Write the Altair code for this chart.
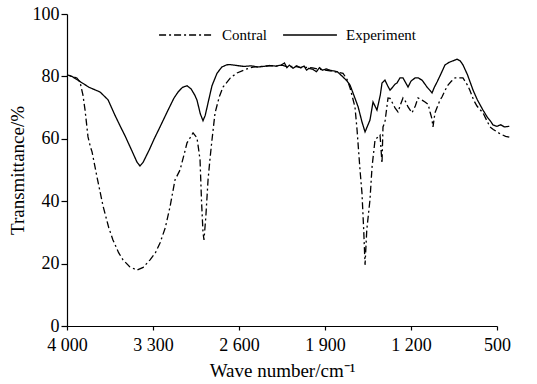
import altair as alt
import pandas as pd

# Experiment (solid)
wn_exp = [4000, 3960, 3900, 3820, 3731, 3666, 3609, 3560, 3528, 3470,
          3430, 3406, 3380, 3330, 3290, 3243, 3180, 3130, 3096, 3060,
          3023, 2990, 2960, 2942, 2915, 2893, 2875, 2852, 2820, 2779,
          2740, 2700, 2673, 2620, 2560, 2500, 2450, 2400, 2350, 2300,
          2260, 2230, 2210, 2190, 2160, 2130, 2100, 2070, 2050, 2030,
          2000, 1970, 1945, 1920, 1890, 1859, 1800, 1753, 1720, 1696,
          1656, 1630, 1599, 1574, 1555, 1534, 1509, 1477, 1450, 1436,
          1412, 1390, 1371, 1350, 1330, 1314, 1290, 1265, 1224, 1200,
          1167, 1140, 1110, 1086, 1070, 1045, 1029, 1010, 988, 960,
          923, 890, 858, 825, 800, 777, 740, 695, 660, 614,
          580, 550, 532, 500, 470, 440, 400]
t_exp = [80.5, 80.0, 78.5, 76.5, 75.0, 72.5, 67.5, 63.5, 61.0, 56.0,
         52.5, 51.3, 52.5, 56.5, 60.0, 63.8, 69.0, 73.0, 75.0, 76.5,
         77.0, 76.0, 74.0, 72.4, 68.0, 65.8, 67.5, 71.5, 77.0, 81.0,
         83.0, 83.7, 83.8, 83.5, 83.2, 83.4, 83.0, 83.2, 83.5, 83.3,
         83.6, 84.3, 82.8, 83.6, 82.6, 83.4, 82.8, 83.3, 82.0, 82.6,
         82.3, 81.5, 82.8, 82.0, 82.4, 82.0, 81.5, 79.8, 78.5, 77.2,
         73.0, 70.2, 65.4, 62.2, 64.0, 66.0, 71.8, 69.2, 74.0, 77.9,
         78.8, 77.0, 75.6, 76.5, 77.5, 77.9, 79.5, 79.5, 76.6, 78.5,
         79.5, 79.5, 78.8, 77.5, 76.6, 75.5, 74.7, 76.5, 78.2, 80.5,
         83.7, 84.5, 85.0, 85.5, 85.0, 83.7, 80.5, 75.6, 72.5, 69.2,
         67.0, 65.5, 64.4, 64.0, 64.5, 63.8, 64.0]

# Contral (dash-dot)
wn_con = [4000, 3960, 3920, 3894, 3870, 3853, 3829, 3810, 3796, 3756,
          3707, 3660, 3626, 3580, 3544, 3490, 3430, 3380, 3324, 3280,
          3243, 3200, 3162, 3121, 3080, 3050, 3023, 2974, 2942, 2930,
          2917, 2905, 2893, 2885, 2870, 2852, 2835, 2820, 2795, 2760,
          2730, 2670, 2616, 2550, 2486, 2420, 2350, 2300, 2250, 2200,
          2150, 2100, 2050, 2000, 1950, 1900, 1859, 1800, 1753, 1720,
          1696, 1656, 1639, 1615, 1599, 1585, 1574, 1560, 1534, 1517,
          1493, 1469, 1452, 1436, 1428, 1412, 1387, 1371, 1355, 1330,
          1306, 1285, 1265, 1245, 1224, 1192, 1165, 1143, 1110, 1086,
          1060, 1045, 1030, 1021, 1005, 988, 964, 948, 923, 899,
          870, 842, 800, 777, 740, 720, 690, 663, 614, 557,
          530, 500, 470, 430, 400]
t_con = [80.5, 80.0, 79.5, 78.2, 74.0, 69.2, 60.6, 57.5, 55.8, 47.8,
         38.5, 31.5, 27.6, 23.5, 21.2, 19.0, 17.9, 18.8, 21.2, 23.5,
         26.6, 31.5, 38.1, 46.8, 50.0, 54.5, 58.7, 61.9, 60.3, 57.0,
         53.2, 40.0, 30.0, 27.6, 35.0, 46.8, 54.0, 59.6, 68.3, 73.5,
         76.6, 79.5, 81.1, 82.2, 83.0, 83.2, 83.4, 83.3, 83.6, 83.0,
         83.3, 82.8, 82.9, 82.7, 82.3, 82.0, 81.8, 81.3, 81.0, 79.0,
         76.3, 70.2, 62.8, 50.0, 42.6, 30.8, 19.6, 30.8, 40.4, 51.0,
         59.6, 60.6, 61.2, 52.2, 63.8, 65.4, 73.1, 73.0, 71.8, 69.9,
         68.6, 71.0, 73.1, 72.0, 70.2, 68.3, 70.5, 73.1, 72.4, 71.8,
         71.0, 68.6, 66.5, 63.8, 68.3, 70.0, 72.4, 73.4, 75.5, 77.2,
         78.5, 79.5, 79.5, 79.5, 77.2, 75.5, 72.4, 70.5, 68.3, 63.8,
         63.0, 62.2, 61.5, 60.8, 60.5]

series_names = ["Contral", "Experiment"]
x_ticks = [4000, 3300, 2600, 1900, 1200, 500]
y_ticks = [0, 20, 40, 60, 80, 100]

df = pd.concat([
    pd.DataFrame({"wn": wn_con, "T": t_con, "series": series_names[0]}),
    pd.DataFrame({"wn": wn_exp, "T": t_exp, "series": series_names[1]}),
])

FONT = "Liberation Serif"

chart = alt.Chart(df).mark_line(color="black", strokeWidth=1.3, clip=False).encode(
    x=alt.X("wn:Q",
            scale=alt.Scale(domain=[500, 4000], reverse=True, nice=False, zero=False),
            axis=alt.Axis(values=x_ticks, title="Wave number/cm⁻¹",
                          labelExpr="datum.value >= 1000 ? floor(datum.value/1000) + ' ' + format(datum.value % 1000, '03d') : '' + datum.value",
                          labelFlush=False, labelOverlap=False,
                          tickSize=4, labelPadding=6, titlePadding=7)),
    y=alt.Y("T:Q",
            scale=alt.Scale(domain=[0, 100], nice=False),
            axis=alt.Axis(values=y_ticks, title="Transmittance/%",
                          labelFlush=False,
                          tickSize=6, labelPadding=2, titlePadding=5)),
    strokeDash=alt.StrokeDash("series:N",
                              scale=alt.Scale(domain=series_names, range=[[7, 3, 2, 3], [1, 0]]),
                              legend=alt.Legend(orient="none", legendX=91, legendY=-7,
                                                direction="horizontal", title=None,
                                                symbolType="stroke", symbolSize=2900,
                                                symbolStrokeWidth=1.3, symbolStrokeColor="black",
                                                labelFont=FONT, labelFontSize=15, labelColor="black",
                                                labelOffset=8, columnPadding=13)),
    order="wn:Q",
).properties(
    width=430, height=312,
    autosize=alt.AutoSizeParams(type="none"),
    padding={"left": 67, "top": 14, "right": 40, "bottom": 58},
    background="white",
).configure_view(stroke=None).configure_axis(
    grid=False, domainColor="black", tickColor="black", domainWidth=1.2, tickWidth=1.2,
    labelFont=FONT, labelFontSize=18, labelColor="black",
    titleFont=FONT, titleFontSize=19, titleColor="black", titleFontWeight="normal",
)

chart.save("out.html", embed_options={"renderer": "svg", "actions": False})
